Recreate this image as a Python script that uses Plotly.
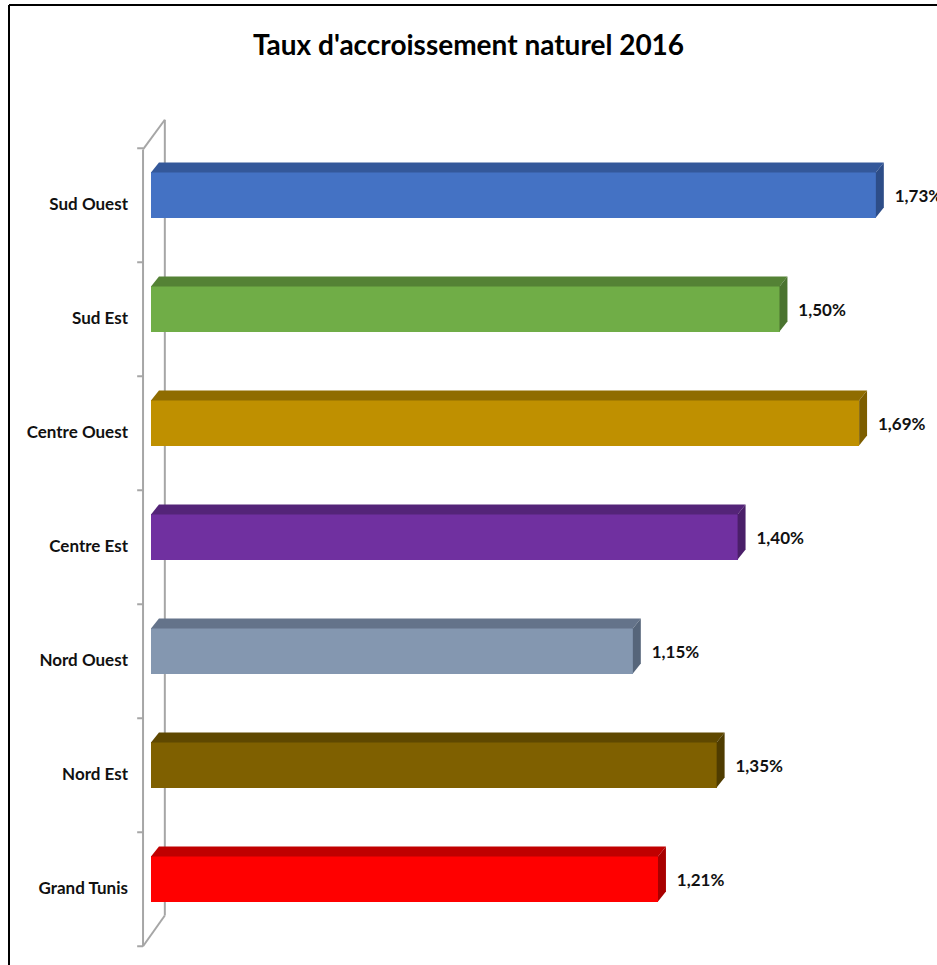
import plotly.graph_objects as go

# ---- data ----
categories = ["Grand Tunis", "Nord Est", "Nord Ouest", "Centre Est", "Centre Ouest", "Sud Est", "Sud Ouest"]
values = [1.21, 1.35, 1.15, 1.40, 1.69, 1.50, 1.73]
value_labels = ["1,21%", "1,35%", "1,15%", "1,40%", "1,69%", "1,50%", "1,73%"]
front_colors = ["#FF0000", "#7F6000", "#8497B0", "#7030A0", "#BF9000", "#70AD47", "#4472C4"]
top_colors = ["#C00000", "#5F4800", "#64738A", "#542478", "#8F6C00", "#548235", "#34589A"]
side_colors = ["#A80000", "#4F3C00", "#56657A", "#4A1F69", "#7D5E00", "#4A732F", "#2D4D88"]
title = "Taux d'accroissement naturel 2016"

FONT = "Lato, Roboto, sans-serif"

# geometry (data units)
BAR_W = 0.395
DX = 0.019
DY = 0.088
ypos = list(range(len(categories)))

fig = go.Figure()

# front faces
fig.add_trace(go.Bar(
    x=values, y=ypos, orientation="h", width=BAR_W,
    marker=dict(color=front_colors, line=dict(width=0)),
    hoverinfo="skip", showlegend=False,
))

# top and side faces
for y, v, tc, sc in zip(ypos, values, top_colors, side_colors):
    t = y + BAR_W / 2
    b = y - BAR_W / 2
    fig.add_trace(go.Scatter(
        x=[0, DX, v + DX, v, 0], y=[t, t + DY, t + DY, t, t],
        fill="toself", fillcolor=tc, mode="lines", line=dict(width=0, color=tc),
        hoverinfo="skip", showlegend=False,
    ))
    fig.add_trace(go.Scatter(
        x=[v, v + DX, v + DX, v, v], y=[t, t + DY, b + DY, b, t],
        fill="toself", fillcolor=sc, mode="lines", line=dict(width=0, color=sc),
        hoverinfo="skip", showlegend=False,
    ))

# value labels
fig.add_trace(go.Scatter(
    x=[v + DX + 0.026 for v in values], y=[y - 0.02 for y in ypos],
    mode="text", text=value_labels, textposition="middle right",
    textfont=dict(family=FONT, size=17, color="#111111", weight="bold"),
    hoverinfo="skip", showlegend=False, cliponaxis=False,
))

# 3D wall lines
WALL_F = -0.019
WALL_B = 0.033
wall_color = "#A6A6A6"
ybot_f, ytop_f = -0.59, 6.40
ybot_b, ytop_b = -0.32, 6.66
shapes = []
for (x0, y0, x1, y1) in [
    (WALL_F, ybot_f, WALL_F, ytop_f),
    (WALL_B, ybot_b, WALL_B, ytop_b),
    (WALL_F, ytop_f, WALL_B, ytop_b),
    (WALL_F, ybot_f, WALL_B, ybot_b),
]:
    shapes.append(dict(type="line", xref="x", yref="y", x0=x0, y0=y0, x1=x1, y1=y1,
                       line=dict(color=wall_color, width=2), layer="below"))
for k in range(-1, len(categories)):
    yy = k + 0.41
    shapes.append(dict(type="line", xref="x", yref="y", x0=WALL_F - 0.014, y0=yy, x1=WALL_F, y1=yy,
                       line=dict(color=wall_color, width=2), layer="below"))

# frame (left + top border)
L, R, T, B = 135, 0, 100, 15
W, H = 937, 965
pw, ph = W - L - R, H - T - B
def px(xp):
    return (xp - L) / pw
def py(yp):
    return 1 - (yp - T) / ph
shapes.append(dict(type="line", xref="paper", yref="paper", x0=px(9), y0=py(5), x1=px(9), y1=py(H + 5),
                   line=dict(color="black", width=2)))
shapes.append(dict(type="line", xref="paper", yref="paper", x0=px(9), y0=py(5), x1=px(W + 5), y1=py(5),
                   line=dict(color="black", width=2)))

SCALE_X = 419.0
SCALE_Y = 114.0
x0_pix = 151
y0_pix = 879

fig.update_layout(
    width=W, height=H,
    margin=dict(l=L, r=R, t=T, b=B),
    paper_bgcolor="white", plot_bgcolor="white",
    title=dict(text=title, x=0.5, xref="container", xanchor="center", y=1 - 45 / H, yanchor="middle",
               font=dict(family=FONT, size=28, color="black", weight="bold")),
    xaxis=dict(range=[(L - x0_pix) / SCALE_X, (W - R - x0_pix) / SCALE_X],
               showgrid=False, zeroline=False, showticklabels=False, showline=False, fixedrange=True),
    yaxis=dict(range=[-(H - B - y0_pix) / SCALE_Y, (y0_pix - T) / SCALE_Y],
               tickvals=[y - 0.08 for y in ypos], ticktext=categories,
               showgrid=False, zeroline=False, showline=False, ticks="",
               tickfont=dict(family=FONT, size=17, color="#111111", weight="bold"),
               ticklabelstandoff=6, fixedrange=True),
    shapes=shapes,
    bargap=0,
)

fig.write_html("out.html", config={"displayModeBar": False},
               post_script="document.body.style.margin='0';document.body.style.overflow='hidden';")
